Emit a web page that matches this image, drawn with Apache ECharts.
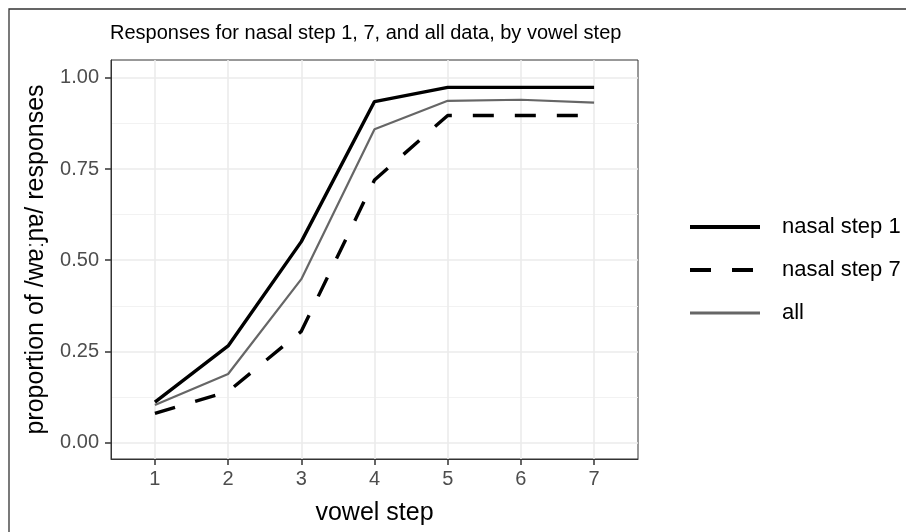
<!DOCTYPE html>
<html lang="en">
<head>
<meta charset="UTF-8">
<title>Responses by vowel step</title>
<script src="https://cdn.jsdelivr.net/npm/echarts@6/dist/echarts.min.js"></script>
</head>
<body style="margin:0">
<div id="chart" style="width:906px;height:532px"></div>
<script>
var steps = [1, 2, 3, 4, 5, 6, 7];
var nasal1 = [0.111, 0.265, 0.551, 0.935, 0.974, 0.974, 0.974];
var nasal7 = [0.080, 0.140, 0.305, 0.720, 0.897, 0.897, 0.897];
var allData = [0.103, 0.188, 0.448, 0.859, 0.937, 0.940, 0.932];
var yTicks = [0, 0.25, 0.5, 0.75, 1];
var yMinor = [0.125, 0.375, 0.625, 0.875];

function pairs(vals) {
    return steps.map(function (s, i) { return [s, vals[i]]; });
}

var chart = echarts.init(document.getElementById('chart'));
var font = 'Liberation Sans, Arial, sans-serif';

var option = {
    backgroundColor: '#fff',
    animation: false,
    textStyle: { fontFamily: font },
    title: {
        text: 'Responses for nasal step 1, 7, and all data, by vowel step',
        left: 110,
        top: 23,
        padding: 0,
        textStyle: { fontSize: 20, fontWeight: 'normal', color: '#000', fontFamily: font }
    },
    grid: {
        left: 111, right: 268, top: 60, bottom: 73,
        show: true, borderColor: '#333', borderWidth: 1, backgroundColor: 'transparent'
    },
    legend: {
        orient: 'vertical',
        left: 688,
        top: 216,
        itemWidth: 70,
        itemHeight: 26,
        itemGap: 21,
        padding: 0,
        textStyle: { fontSize: 22, color: '#000', fontFamily: font, padding: [0, 0, 0, 17] },
        itemStyle: { opacity: 0 },
        data: [
            { name: 'nasal step 1', lineStyle: { width: 4 } },
            { name: 'nasal step 7', lineStyle: { width: 4 } },
            { name: 'all', lineStyle: { width: 3 } }
        ]
    },
    xAxis: {
        type: 'value',
        position: 'bottom',
        min: 0.4, max: 7.6,
        name: 'vowel step',
        nameLocation: 'middle',
        nameGap: 42,
        nameTextStyle: { fontSize: 25, color: '#000' },
        axisLine: { show: true, onZero: false, lineStyle: { color: '#333', width: 1 } },
        axisTick: { show: true, length: 6, customValues: steps, lineStyle: { color: '#333', width: 1.5 } },
        axisLabel: { customValues: steps, margin: 10, fontSize: 20, color: '#4d4d4d' },
        splitLine: { show: true, lineStyle: { color: '#ebebeb', width: 1.6 } }
    },
    yAxis: [{
        type: 'value',
        min: -0.045, max: 1.049,
        name: 'proportion of /wɐːɲɐ/ responses',
        nameLocation: 'middle',
        nameRotate: 90,
        nameGap: 62,
        nameTextStyle: { fontSize: 25, color: '#000' },
        axisLine: { show: true, onZero: false, lineStyle: { color: '#333', width: 1 } },
        axisTick: { show: true, length: 6, customValues: yTicks, lineStyle: { color: '#333', width: 1.5 } },
        axisLabel: {
            customValues: yTicks, margin: 12, fontSize: 20, color: '#4d4d4d',
            formatter: function (v) { return v.toFixed(2); }
        },
        splitLine: { show: true, lineStyle: { color: '#ebebeb', width: 1.6 } }
    }, {
        type: 'value',
        position: 'left',
        min: -0.045, max: 1.049,
        axisLine: { show: false, onZero: false },
        axisTick: { show: false, customValues: yMinor },
        axisLabel: { show: false, customValues: yMinor },
        splitLine: { show: true, lineStyle: { color: '#f0f0f0', width: 0.9 } }
    }],
    graphic: [{
        type: 'polyline',
        shape: { points: [[9, 540], [9, 9], [910, 9]] },
        style: { stroke: '#333', lineWidth: 1.3, fill: null },
        silent: true
    }],
    series: [{
        name: 'nasal step 1',
        type: 'line',
        symbol: 'none',
        data: pairs(nasal1),
        lineStyle: { color: '#000', width: 3.4 },
        itemStyle: { color: '#000' },
        z: 3
    }, {
        name: 'nasal step 7',
        type: 'line',
        symbol: 'none',
        data: pairs(nasal7),
        lineStyle: { color: '#000', width: 3.4, type: [21, 21], cap: 'butt' },
        itemStyle: { color: '#000' },
        z: 3
    }, {
        name: 'all',
        type: 'line',
        symbol: 'none',
        data: pairs(allData),
        lineStyle: { color: '#666', width: 2.2 },
        itemStyle: { color: '#666' },
        z: 2
    }]
};

chart.setOption(option);
</script>
</body>
</html>
